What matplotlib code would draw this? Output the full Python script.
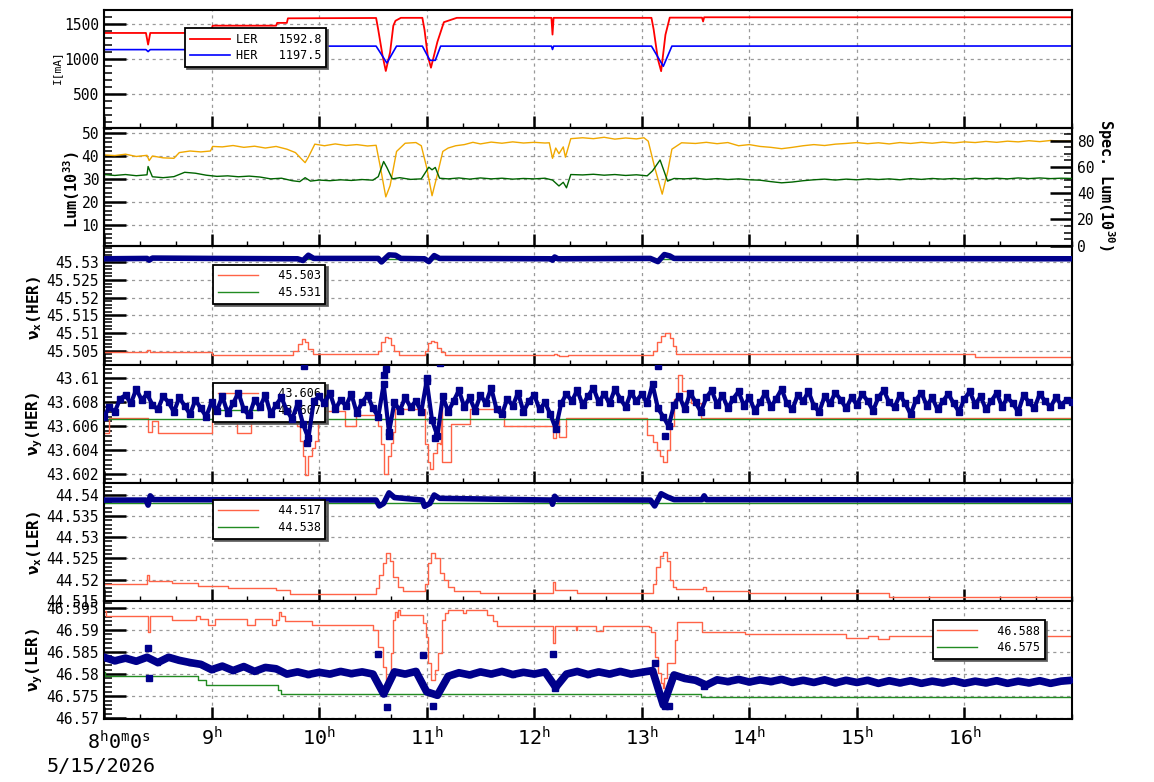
import numpy as np
import matplotlib
matplotlib.use('Agg')
import matplotlib.pyplot as plt
from matplotlib.ticker import MultipleLocator, FixedLocator, FuncFormatter

plt.rcParams['font.family'] = 'DejaVu Sans Mono'
plt.rcParams['mathtext.fontset'] = 'custom'
plt.rcParams['mathtext.rm'] = 'DejaVu Sans Mono'
plt.rcParams['mathtext.it'] = 'DejaVu Sans Mono'
plt.rcParams['mathtext.bf'] = 'DejaVu Sans Mono:bold'

# ---- data (time in hours of 5/15/2026) ----
# beam currents [mA]
ler_t = [8.0, 8.39, 8.41, 8.43, 8.85, 8.86, 9.0, 9.01, 9.6, 9.61, 9.7, 9.71, 10.53, 10.55, 10.59,
         10.62, 10.66, 10.69, 10.71, 10.76, 10.96, 10.98, 11.01, 11.04, 11.1, 11.16, 11.28, 12.16,
         12.17, 12.18, 13.09, 13.11, 13.15, 13.18, 13.22, 13.26, 13.56, 13.57, 13.58, 17.0]
ler_i = [1376, 1376, 1210, 1376, 1376, 1424, 1424, 1480, 1480, 1520, 1520, 1585, 1590, 1420, 1050,
         833, 1100, 1480, 1550, 1592, 1592, 1420, 1050, 880, 1250, 1530, 1592, 1592,
         1353, 1592, 1592, 1430, 1000, 830, 1350, 1595, 1595, 1540, 1600, 1600]
her_t = [8.0, 8.39, 8.41, 8.43, 8.99, 9.0, 9.78, 9.87, 9.93, 10.53, 10.63, 10.72, 10.96, 11.03,
         11.08, 11.13, 12.16, 12.17, 12.18, 13.09, 13.2, 13.28, 17.0]
her_i = [1138, 1138, 1110, 1138, 1138, 1188, 1188, 947, 1188, 1188, 947, 1188, 1188, 985,
         985, 1188, 1188, 1140, 1188, 1188, 900, 1188, 1190]

# luminosity [1e33] and specific luminosity [1e30]
lum_t = [8.0, 8.1, 8.2, 8.3, 8.4, 8.42, 8.45, 8.55, 8.65, 8.7, 8.8, 8.9, 8.99, 9.01, 9.1, 9.2, 9.3,
         9.4, 9.5, 9.6, 9.7, 9.78, 9.83, 9.87, 9.9, 9.96, 10.05, 10.15, 10.25, 10.35, 10.45, 10.53,
         10.57, 10.62, 10.66, 10.72, 10.8, 10.9, 10.95, 11.0, 11.05, 11.1, 11.15, 11.2, 11.27, 11.35,
         11.43, 11.5, 11.6, 11.7, 11.8, 11.9, 12.0, 12.1, 12.14, 12.17, 12.2, 12.23, 12.27, 12.29,
         12.34, 12.45, 12.55, 12.65, 12.75, 12.85, 12.95, 13.02, 13.06, 13.12, 13.19, 13.24, 13.28,
         13.37, 13.5, 13.6, 13.7, 13.8, 13.9, 14.0, 14.1, 14.2, 14.3, 14.4, 14.5, 14.6, 14.7, 14.8,
         14.9, 15.0, 15.1, 15.2, 15.3, 15.4, 15.5, 15.6, 15.7, 15.8, 15.9, 16.0, 16.1, 16.2, 16.3,
         16.4, 16.5, 16.6, 16.7, 16.8, 16.9, 17.0]
lum = [40.5, 40.2, 40.8, 39.8, 40.3, 38.0, 40.0, 39.2, 39.0, 41.5, 42.2, 41.8, 42.2, 44.2, 44.0,
       44.6, 43.8, 44.3, 43.5, 44.2, 43.0, 41.5, 39.0, 37.1, 39.5, 45.2, 44.5, 45.3, 44.6, 45.0,
       44.4, 44.7, 35.0, 22.1, 27.0, 42.0, 45.6, 45.9, 44.5, 35.0, 22.6, 32.0, 42.0, 43.5, 44.5,
       45.0, 46.0, 45.3, 46.1, 45.6, 46.2, 45.7, 46.0, 45.7, 45.8, 39.0, 43.5, 41.0, 44.0, 39.5,
       47.6, 48.0, 47.6, 48.2, 47.4, 47.9, 47.5, 48.0, 46.5, 35.0, 23.3, 33.0, 43.0, 45.8, 45.5,
       46.0, 45.4, 45.9, 44.5, 45.0, 44.2, 43.8, 43.2, 43.8, 44.5, 45.0, 44.6, 45.2, 45.5, 45.9,
       45.4, 45.8, 45.3, 45.9, 45.5, 46.0, 45.6, 46.1, 45.7, 46.2, 45.9, 46.4, 46.0, 46.5, 46.2,
       46.7, 46.3, 46.8, 46.5, 46.6]
slum_t = [8.0, 8.1, 8.2, 8.3, 8.4, 8.41, 8.45, 8.55, 8.65, 8.75, 8.85, 8.95, 9.05, 9.15, 9.25, 9.35,
          9.45, 9.55, 9.65, 9.75, 9.82, 9.87, 9.92, 10.0, 10.1, 10.2, 10.3, 10.4, 10.5, 10.55, 10.6,
          10.63, 10.68, 10.75, 10.85, 10.95, 11.02, 11.05, 11.08, 11.12, 11.2, 11.3, 11.4, 11.5,
          11.6, 11.7, 11.8, 11.9, 12.0, 12.1, 12.17, 12.23, 12.27, 12.3, 12.34, 12.45, 12.55, 12.65,
          12.75, 12.85, 12.95, 13.05, 13.1, 13.17, 13.21, 13.24, 13.3, 13.4, 13.5, 13.6, 13.7, 13.8,
          13.9, 14.0, 14.1, 14.2, 14.3, 14.4, 14.5, 14.6, 14.7, 14.8, 14.9, 15.0, 15.1, 15.2, 15.3,
          15.4, 15.5, 15.6, 15.7, 15.8, 15.9, 16.0, 16.1, 16.2, 16.3, 16.4, 16.5, 16.6, 16.7, 16.8,
          16.9, 17.0]
slum = [54.2, 53.5, 54.2, 53.3, 54.0, 60.3, 52.5, 51.8, 52.6, 55.9, 55.2, 53.7, 52.8, 53.2, 52.5,
        53.0, 52.3, 50.9, 51.4, 49.5, 48.8, 51.8, 49.2, 50.0, 49.5, 50.2, 49.7, 50.4, 49.9, 52.6,
        64.1, 59.6, 50.9, 51.8, 50.5, 50.9, 59.8, 57.8, 59.6, 51.4, 50.9, 51.6, 50.7, 51.6, 50.9,
        51.4, 50.7, 51.2, 50.9, 51.4, 50.0, 45.5, 48.3, 44.1, 54.2, 53.9, 54.4, 53.7, 54.2, 53.5,
        54.0, 53.2, 57.0, 65.3, 56.1, 49.2, 51.2, 50.9, 51.4, 50.5, 51.1, 50.4, 50.9, 50.2, 49.9,
        48.8, 47.9, 48.5, 49.5, 50.2, 50.7, 50.0, 50.7, 50.2, 50.9, 50.4, 50.9, 50.2, 51.1, 50.5,
        51.2, 50.7, 51.2, 50.7, 51.4, 50.9, 51.4, 50.9, 51.6, 51.1, 51.6, 51.1, 51.4, 51.2]

# tune nu_x(HER)
nxh_set_t = [8.0, 8.40, 8.43, 9.0, 9.4, 9.76, 9.8, 9.84, 9.87, 9.9, 9.94, 10.55, 10.58, 10.61,
             10.64, 10.67, 10.7, 10.74, 10.98, 11.01, 11.04, 11.07, 11.1, 11.13, 11.17, 12.18,
             12.21, 12.23, 12.31, 13.1, 13.14, 13.18, 13.22, 13.26, 13.29, 13.32, 16.1, 17.0]
nxh_set = [45.5045, 45.5052, 45.5045, 45.5038, 45.5037, 45.5050, 45.5070, 45.5082, 45.5075,
           45.5055, 45.5040, 45.5050, 45.5075, 45.5088, 45.5085, 45.5065, 45.5048, 45.5038,
           45.5050, 45.5072, 45.5078, 45.5074, 45.5058, 45.5045, 45.5037, 45.5040, 45.5037,
           45.5034, 45.5038, 45.5050, 45.5075, 45.5092, 45.5099, 45.5085, 45.5062, 45.5040,
           45.5032, 45.5032]
nxh_meas_t = [8.0, 8.4, 8.42, 8.45, 9.0, 9.8, 9.85, 9.9, 9.95, 10.55, 10.58, 10.65, 10.71, 10.76,
              10.98, 11.02, 11.07, 11.12, 12.15, 12.17, 12.19, 12.22, 13.08, 13.15, 13.21, 13.26,
              13.3, 17.0]
nxh_meas = [45.5310, 45.5311, 45.5306, 45.5312, 45.5311, 45.5310, 45.5305, 45.5320, 45.5311,
            45.5311, 45.5301, 45.5321, 45.5320, 45.5311, 45.5310, 45.5302, 45.5319, 45.5311,
            45.5310, 45.5306, 45.5315, 45.5310, 45.5311, 45.5302, 45.5322, 45.5318, 45.5311,
            45.5310]
nxh_ref = 45.5308

# tune nu_y(HER)
nyh_set_t = [8.0, 8.05, 8.41, 8.45, 8.5, 9.0, 9.24, 9.37, 9.79, 9.82, 9.85, 9.87, 9.9, 9.93, 9.96,
             9.99, 10.24, 10.34, 10.55, 10.58, 10.6, 10.64, 10.67, 10.69, 10.71, 10.98, 11.01,
             11.03, 11.06, 11.1, 11.12, 11.13, 11.14, 11.23, 11.4, 11.72, 12.17, 12.2, 12.23,
             12.3, 13.05, 13.1, 13.14, 13.17, 13.2, 13.23, 13.26, 13.3, 13.34, 13.37, 13.46,
             13.55, 17.0]
nyh_set = [43.6054, 43.6067, 43.6055, 43.6064, 43.6054, 43.6064, 43.6054, 43.6065, 43.6060,
           43.6048, 43.6035, 43.6019, 43.6035, 43.6042, 43.6048, 43.6073, 43.6060, 43.6069,
           43.6060, 43.6045, 43.6020, 43.6035, 43.6046, 43.6055, 43.6074, 43.6045, 43.6030,
           43.6024, 43.6038, 43.6046, 43.6045, 43.6076, 43.6030, 43.6062, 43.6074, 43.6060,
           43.6050, 43.6067, 43.6051, 43.6067, 43.6053, 43.6047, 43.6040, 43.6035, 43.6030,
           43.6040, 43.6060, 43.6083, 43.6103, 43.6089, 43.6079, 43.6067, 43.6067]
# measured nu_y(HER), one reading every 3 minutes from 8:00 to 17:00
nyh_meas_t = np.arange(8, 17.001, 0.05)
nyh_meas = [
    43.6068, 43.6076, 43.6072, 43.6083, 43.6086, 43.6079, 43.6091, 43.6082, 43.6087, 43.6078,
    43.6074, 43.6085, 43.6080, 43.6072, 43.6084, 43.6077, 43.6070, 43.6082, 43.6075, 43.6068,
    43.6080, 43.6073, 43.6085, 43.6071, 43.6079, 43.6088, 43.6074, 43.6069, 43.6082, 43.6076,
    43.6086, 43.6070, 43.6078, 43.6084, 43.6073, 43.6066, 43.6079, 43.6062, 43.6050, 43.6081,
    43.6085, 43.6079, 43.6088, 43.6074, 43.6082, 43.6077, 43.6087, 43.6071, 43.6080, 43.6086,
    43.6075, 43.6068, 43.6095, 43.6055, 43.6080, 43.6073, 43.6084, 43.6076, 43.6081, 43.6072,
    43.6098, 43.6065, 43.6052, 43.6085, 43.6072, 43.6081, 43.6090, 43.6076, 43.6084, 43.6073,
    43.6086, 43.6079, 43.6092, 43.6074, 43.6070, 43.6083, 43.6077, 43.6088, 43.6072, 43.6081,
    43.6086, 43.6074, 43.6080, 43.6070, 43.6058, 43.6079, 43.6087, 43.6081, 43.6090, 43.6078,
    43.6085, 43.6092, 43.6080, 43.6087, 43.6079, 43.6091, 43.6083, 43.6076, 43.6088, 43.6081,
    43.6087, 43.6079, 43.6095, 43.6075, 43.6068, 43.6060, 43.6078, 43.6085, 43.6074, 43.6088,
    43.6080, 43.6072, 43.6084, 43.6090, 43.6078, 43.6086, 43.6075, 43.6083, 43.6089, 43.6077,
    43.6084, 43.6073, 43.6080, 43.6088, 43.6076, 43.6083, 43.6091, 43.6079, 43.6074, 43.6086,
    43.6081, 43.6089, 43.6077, 43.6072, 43.6085, 43.6079, 43.6088, 43.6082, 43.6075, 43.6084,
    43.6078, 43.6087, 43.6081, 43.6073, 43.6084, 43.6090, 43.6080, 43.6076, 43.6086, 43.6079,
    43.6070, 43.6082, 43.6088, 43.6077, 43.6084, 43.6074, 43.6081, 43.6087, 43.6079, 43.6072,
    43.6083, 43.6089, 43.6078, 43.6085, 43.6074, 43.6081, 43.6088, 43.6076, 43.6084, 43.6079,
    43.6072, 43.6086, 43.6080, 43.6075, 43.6087, 43.6081, 43.6076, 43.6084, 43.6078, 43.6082,
    43.6080]
nyh_out_t = [9.86, 9.89, 10.6, 10.62, 10.65, 11.0, 11.08, 11.12, 13.15, 13.22]
nyh_out = [43.6110, 43.6046, 43.6103, 43.6108, 43.6052, 43.6100, 43.6050, 43.6113, 43.6110, 43.6052]
nyh_ref = 43.6066

# tune nu_x(LER)
nxl_set_t = [8.0, 8.40, 8.42, 8.63, 8.87, 9.15, 9.6, 9.73, 10.53, 10.56, 10.59, 10.62, 10.66,
             10.69, 10.73, 10.78, 10.98, 11.01, 11.04, 11.08, 11.12, 11.16, 11.2, 11.25, 11.5,
             12.17, 12.19, 12.4, 13.1, 13.13, 13.17, 13.2, 13.23, 13.26, 13.29, 13.32, 13.57,
             13.6, 14.0, 15.3, 17.0]
nxl_set = [44.5189, 44.5211, 44.5197, 44.5191, 44.5185, 44.5179, 44.5175, 44.5166, 44.5180,
           44.5210, 44.5240, 44.5262, 44.5245, 44.5205, 44.5183, 44.5173, 44.5190, 44.5240,
           44.5262, 44.5250, 44.5215, 44.5199, 44.5183, 44.5173, 44.5169, 44.5195, 44.5175,
           44.5169, 44.5190, 44.5230, 44.5255, 44.5266, 44.5245, 44.5199, 44.5183, 44.5178,
           44.5182, 44.5172, 44.5168, 44.5159, 44.5159]
nxl_meas_t = [8.0, 8.39, 8.41, 8.43, 8.46, 10.53, 10.56, 10.6, 10.65, 10.7, 10.96, 10.98, 11.03,
              11.07, 11.12, 12.16, 12.17, 12.19, 12.22, 13.08, 13.12, 13.18, 13.24, 13.3, 13.56,
              13.58, 13.6, 17.0]
nxl_meas = [44.5388, 44.5388, 44.5376, 44.5398, 44.5389, 44.5388, 44.5374, 44.5380, 44.5405,
            44.5394, 44.5388, 44.5373, 44.5380, 44.5400, 44.5392, 44.5388, 44.5378, 44.5397,
            44.5389, 44.5388, 44.5374, 44.5403, 44.5395, 44.5389, 44.5389, 44.5398, 44.5389,
            44.5388]
nxl_ref = 44.5380

# tune nu_y(LER)
nyl_set_t = [8.0, 8.02, 8.41, 8.43, 8.63, 8.86, 8.89, 8.97, 9.03, 9.33, 9.4, 9.56, 9.6, 9.63,
             9.65, 9.68, 9.93, 10.5, 10.55, 10.59, 10.62, 10.65, 10.67, 10.69, 10.71, 10.72, 10.73,
             10.75, 10.97, 10.99, 11.01, 11.04, 11.08, 11.11, 11.14, 11.17, 11.2, 11.34, 11.37,
             11.56, 11.62, 11.65, 12.17, 12.19, 12.39, 12.4, 12.57, 12.64, 13.07, 13.09, 13.12,
             13.15, 13.18, 13.2, 13.21, 13.23, 13.29, 13.31, 13.33, 13.56, 13.96, 14.9, 15.1,
             15.2, 15.3, 17.0]
nyl_set = [46.5943, 46.5931, 46.5894, 46.5931, 46.5922, 46.5932, 46.5924, 46.5911, 46.5924,
           46.5912, 46.5924, 46.5912, 46.5922, 46.5941, 46.5932, 46.5920, 46.5911, 46.5900,
           46.5862, 46.5817, 46.5768, 46.5787, 46.5847, 46.5922, 46.5941, 46.5930, 46.5945,
           46.5933, 46.5915, 46.5884, 46.5824, 46.5787, 46.5809, 46.5847, 46.5922, 46.5937,
           46.5945, 46.5939, 46.5945, 46.5933, 46.5921, 46.5909, 46.5871, 46.5909, 46.5900,
           46.5909, 46.5898, 46.5909, 46.5907, 46.5896, 46.5839, 46.5802, 46.5779, 46.5768,
           46.5790, 46.5824, 46.5824, 46.5877, 46.5918, 46.5895, 46.5890, 46.5881, 46.5885,
           46.5879, 46.5885, 46.5885]
nyl_ref_t = [8.0, 8.01, 8.87, 8.95, 9.62, 9.65, 13.55, 17.0]
nyl_ref = [46.5805, 46.5796, 46.5787, 46.5775, 46.5765, 46.5754, 46.5749, 46.5749]
nyl_meas_t = np.arange(8, 17.001, 0.1)
nyl_meas = [46.5838, 46.5830, 46.5836, 46.5829, 46.5838, 46.5826, 46.5838, 46.5831, 46.5826,
            46.5822, 46.5810, 46.5818, 46.5808, 46.5817, 46.5806, 46.5815, 46.5812, 46.5800,
            46.5805, 46.5799, 46.5804, 46.5800, 46.5806, 46.5801, 46.5805, 46.5800, 46.5755,
            46.5805, 46.5800, 46.5806, 46.5760, 46.5752, 46.5795, 46.5803, 46.5798, 46.5805,
            46.5800, 46.5806, 46.5799, 46.5804, 46.5800, 46.5805, 46.5770, 46.5800, 46.5806,
            46.5799, 46.5805, 46.5800, 46.5806, 46.5800, 46.5804, 46.5808, 46.5730, 46.5798,
            46.5790, 46.5786, 46.5775, 46.5787, 46.5783, 46.5788, 46.5782, 46.5787, 46.5783,
            46.5788, 46.5781, 46.5786, 46.5781, 46.5787, 46.5780, 46.5786, 46.5781, 46.5786,
            46.5779, 46.5785, 46.5780, 46.5785, 46.5779, 46.5784, 46.5780, 46.5785, 46.5779,
            46.5784, 46.5780, 46.5785, 46.5779, 46.5784, 46.5780, 46.5785, 46.5779, 46.5784,
            46.5786]
nyl_out_t = [8.41, 8.42, 10.55, 10.63, 10.97, 11.06, 12.17, 12.19, 13.12, 13.22, 13.25, 13.58]
nyl_out = [46.5858, 46.5790, 46.5845, 46.5725, 46.5843, 46.5728, 46.5845, 46.5768, 46.5825,
           46.5728, 46.5728, 46.5772]

hours = list(range(8, 17))

# ---- figure ----
W, H = 1154, 782
fig, axes = plt.subplots(6, 1, sharex=True, figsize=(W / 100, H / 100), dpi=100)
fig.subplots_adjust(left=104 / W, right=1072 / W, top=1 - 10 / H, bottom=1 - 719 / H, hspace=0)

RED, BLUE, NAVY = '#ff0000', '#0000ff', '#00008b'
TOMATO, GREEN = '#ff6347', '#228b22'
ORANGE, DKGREEN = '#f0a800', '#006400'


def style(ax, major, minor, fmt):
    ax.yaxis.set_major_locator(MultipleLocator(major))
    ax.yaxis.set_minor_locator(MultipleLocator(minor))
    ax.yaxis.set_major_formatter(FuncFormatter(fmt))
    ax.tick_params(axis='y', which='major', direction='in', length=16, width=1.8, labelsize=10.5)
    ax.tick_params(axis='y', which='minor', direction='in', length=5.5, width=1.1)
    ax.tick_params(axis='x', which='major', direction='in', length=8.5, width=1.8)
    ax.tick_params(axis='x', which='minor', direction='in', length=3.5, width=1.0)
    for s in ax.spines.values():
        s.set_linewidth(1.5)
    ax.grid(True, which='major', ls=(0, (2.5, 3)), color='#999999', lw=0.9)


def dec(v, p):
    return ('%.3f' % v).rstrip('0').rstrip('.')


def leg(ax, x, y):
    lg = ax.legend(loc='upper left', bbox_to_anchor=(x, y), borderaxespad=0, fontsize=8.5,
                   handlelength=3.4, handletextpad=0.5, labelspacing=0.3, fancybox=False,
                   edgecolor='black', framealpha=1,
                   shadow={'ox': 1.5, 'oy': -1.5, 'color': '#555555', 'alpha': 0.9})
    lg.get_frame().set_linewidth(1.3)
    return lg


# panel 1: currents
ax = axes[0]
ax.plot(ler_t, ler_i, color=RED, lw=1.3, label='LER   1592.8')
ax.plot(her_t, her_i, color=BLUE, lw=1.2, label='HER   1197.5')
ax.set_ylim(16, 1704)
style(ax, 500, 100, lambda v, p: '%d' % v)
leg(ax, 0.084, 0.846)

# panel 2: luminosity
ax = axes[1]
ax.plot(lum_t, lum, color=ORANGE, lw=1.0)
ax.set_ylim(0.44, 52.2)
style(ax, 10, 2, lambda v, p: '%d' % v)
ax2 = ax.twinx()
ax2.plot(slum_t, slum, color=DKGREEN, lw=1.0)
ax2.set_ylim(-0.46, 89.5)
ax2.yaxis.set_major_locator(MultipleLocator(20))
ax2.yaxis.set_minor_locator(MultipleLocator(5))
ax2.tick_params(axis='y', which='major', direction='in', length=16, width=1.8, labelsize=10.5)
ax2.tick_params(axis='y', which='minor', direction='in', length=5.5, width=1.1)

# panel 3: nu_x(HER)
ax = axes[2]
ax.plot(nxh_meas_t, nxh_meas, color=NAVY, lw=4, zorder=3)
ax.plot(nxh_set_t, nxh_set, color=TOMATO, lw=1.0, drawstyle='steps-post', label='  45.503')
ax.axhline(nxh_ref, color=GREEN, lw=1.0, label='  45.531')
ax.set_ylim(45.5011, 45.53452)
style(ax, 0.005, 0.001, dec)
leg(ax, 0.1126, 0.846)

# panel 4: nu_y(HER)
ax = axes[3]
ax.plot(nyh_set_t, nyh_set, color=TOMATO, lw=1.0, drawstyle='steps-post', label='  43.606')
ax.axhline(nyh_ref, color=GREEN, lw=1.0, label='  43.607')
ax.plot(nyh_meas_t, nyh_meas, color=NAVY, lw=3, marker='s', ms=4, zorder=3)
ax.plot(nyh_out_t, nyh_out, ls='none', color=NAVY, marker='s', ms=4, zorder=3)
ax.set_ylim(43.6013, 43.61115)
style(ax, 0.002, 0.0004, dec)
leg(ax, 0.1126, 0.847).set_zorder(2.5)

# panel 5: nu_x(LER)
ax = axes[4]
ax.plot(nxl_meas_t, nxl_meas, color=NAVY, lw=4, zorder=3)
ax.plot(nxl_set_t, nxl_set, color=TOMATO, lw=1.0, drawstyle='steps-post', label='  44.517')
ax.axhline(nxl_ref, color=GREEN, lw=1.0, label='  44.538')
ax.set_ylim(44.51497, 44.54291)
style(ax, 0.005, 0.001, dec)
leg(ax, 0.1126, 0.856)

# panel 6: nu_y(LER)
ax = axes[5]
ax.plot(nyl_meas_t, nyl_meas, color=NAVY, lw=5.5, marker='s', ms=3, zorder=3)
ax.plot(nyl_out_t, nyl_out, ls='none', color=NAVY, marker='s', ms=4, zorder=3)
ax.plot(nyl_set_t, nyl_set, color=TOMATO, lw=1.0, drawstyle='steps-post', label='  46.588')
ax.plot(nyl_ref_t, nyl_ref, color=GREEN, lw=1.0, drawstyle='steps-post', label='  46.575')
ax.set_ylim(46.56984, 46.59656)
style(ax, 0.005, 0.001, dec)
leg(ax, 0.856, 0.839)

# time axis
ax.set_xlim(8, 17)
ax.xaxis.set_major_locator(FixedLocator(hours))
ax.xaxis.set_minor_locator(MultipleLocator(1 / 3))
ax.xaxis.set_major_formatter(FuncFormatter(lambda v, p: '' if v < 8.5 else '$%d^{h}$' % round(v)))
ax.tick_params(axis='x', labelsize=14.5, pad=5)
fig.text(87 / W, 1 - 742 / H, '$8^{h}0^{m}0^{s}$', fontsize=14.5, ha='left', va='center')
fig.text(47 / W, 1 - 766 / H, '5/15/2026', fontsize=14.5, ha='left', va='center')

# axis titles
fig.text(57 / W, 1 - 67 / H, 'I[mA]', fontsize=8, rotation=90, ha='center', va='center')
fig.text(72 / W, 1 - 190 / H, r'Lum(10$^\mathbf{33}$)', fontsize=11, fontweight='bold',
         rotation=90, ha='center', va='center')
fig.text(1106 / W, 1 - 185 / H, r'Spec. Lum(10$^\mathbf{30}$)', fontsize=11, fontweight='bold',
         rotation=-90, ha='center', va='center')
ylabels = [('ν$_\\mathbf{x}$(HER)', 308), ('ν$_\\mathbf{y}$(HER)', 424),
           ('ν$_\\mathbf{x}$(LER)', 543), ('ν$_\\mathbf{y}$(LER)', 660)]
for txt, yp in ylabels:
    fig.text(35 / W, 1 - yp / H, txt, fontsize=11.5, fontweight='bold', rotation=90,
             ha='center', va='center')

fig.savefig('out.png', dpi=100)
